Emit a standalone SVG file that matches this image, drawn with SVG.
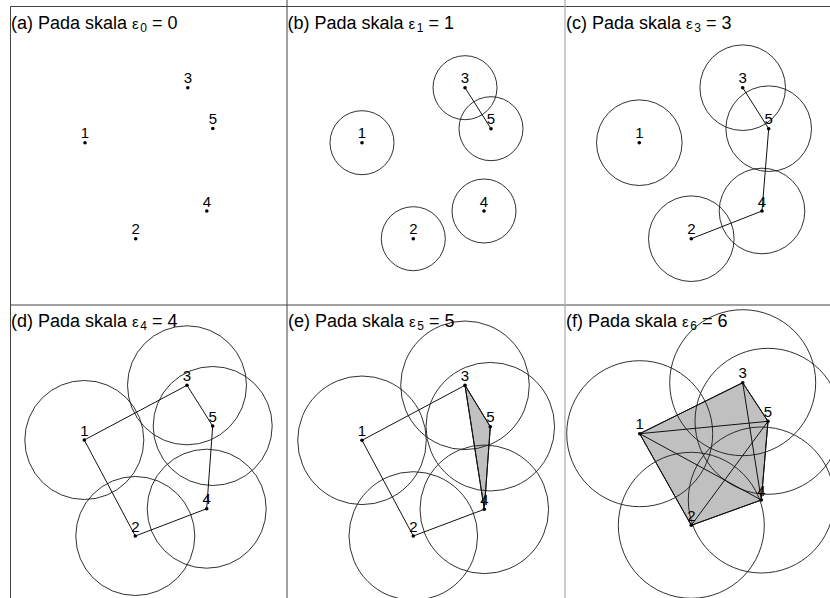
<svg xmlns="http://www.w3.org/2000/svg" width="830" height="598" viewBox="0 0 830 598">
<style>
.bg{fill:#ffffff}
.frame{stroke:#444;stroke-width:1;fill:none}
.frame2{stroke:#aaa;stroke-width:1.2;fill:none}
.title{font-family:"Liberation Sans",Arial,sans-serif;font-size:18px;fill:#000}
.eps{font-size:15px}
.sub{font-size:12px}
.ball{fill:none;stroke:#1a1a1a;stroke-width:0.9}
.edge{stroke:#111;stroke-width:1;fill:none}
.tri{fill:#c0c0c0;stroke:#111;stroke-width:1}
.pt{fill:#000}
.lbl{font-family:"Liberation Sans",Arial,sans-serif;font-size:15px;fill:#000;text-anchor:middle}
</style>
<rect class="bg" x="0" y="0" width="830" height="598"/>

<!-- panel (a) -->
<g id="panel-a">
<g id="a-connectors"></g>
<g id="a-n1"><circle class="pt" cx="85" cy="142.7" r="1.8"/><text class="lbl" x="85" y="138.2">1</text></g>
<g id="a-n2"><circle class="pt" cx="135.7" cy="238.7" r="1.8"/><text class="lbl" x="135.7" y="234.2">2</text></g>
<g id="a-n3"><circle class="pt" cx="187.8" cy="87.7" r="1.8"/><text class="lbl" x="187.8" y="83.2">3</text></g>
<g id="a-n4"><circle class="pt" cx="206.8" cy="211" r="1.8"/><text class="lbl" x="206.8" y="206.5">4</text></g>
<g id="a-n5"><circle class="pt" cx="212.8" cy="128.5" r="1.8"/><text class="lbl" x="212.8" y="124">5</text></g>
</g>

<!-- panel (b) r=32 -->
<g id="panel-b">
<g id="b-balls">
<circle class="ball" cx="362" cy="142.7" r="32"/>
<circle class="ball" cx="413.3" cy="238.7" r="32"/>
<circle class="ball" cx="465" cy="87.7" r="32"/>
<circle class="ball" cx="484" cy="211" r="32"/>
<circle class="ball" cx="491" cy="128.7" r="32"/>
</g>
<g id="b-connectors">
<line class="edge" x1="465" y1="87.7" x2="491" y2="128.7"/>
</g>
<g id="b-n1"><circle class="pt" cx="362" cy="142.7" r="1.8"/><text class="lbl" x="362" y="138.2">1</text></g>
<g id="b-n2"><circle class="pt" cx="413.3" cy="238.7" r="1.8"/><text class="lbl" x="413.3" y="234.2">2</text></g>
<g id="b-n3"><circle class="pt" cx="465" cy="87.7" r="1.8"/><text class="lbl" x="465" y="83.2">3</text></g>
<g id="b-n4"><circle class="pt" cx="484" cy="211" r="1.8"/><text class="lbl" x="484" y="206.5">4</text></g>
<g id="b-n5"><circle class="pt" cx="491" cy="128.7" r="1.8"/><text class="lbl" x="491" y="124.2">5</text></g>
</g>

<!-- panel (c) r=42.8 -->
<g id="panel-c">
<g id="c-balls">
<circle class="ball" cx="639.3" cy="142.7" r="42.8"/>
<circle class="ball" cx="691.3" cy="238.7" r="42.8"/>
<circle class="ball" cx="742.7" cy="87.7" r="42.8"/>
<circle class="ball" cx="762" cy="211" r="42.8"/>
<circle class="ball" cx="768.7" cy="128.7" r="42.8"/>
</g>
<g id="c-connectors">
<line class="edge" x1="742.7" y1="87.7" x2="768.7" y2="128.7"/>
<line class="edge" x1="768.7" y1="128.7" x2="762" y2="211"/>
<line class="edge" x1="762" y1="211" x2="691.3" y2="238.7"/>
</g>
<g id="c-n1"><circle class="pt" cx="639.3" cy="142.7" r="1.8"/><text class="lbl" x="639.3" y="138.2">1</text></g>
<g id="c-n2"><circle class="pt" cx="691.3" cy="238.7" r="1.8"/><text class="lbl" x="691.3" y="234.2">2</text></g>
<g id="c-n3"><circle class="pt" cx="742.7" cy="87.7" r="1.8"/><text class="lbl" x="742.7" y="83.2">3</text></g>
<g id="c-n4"><circle class="pt" cx="762" cy="211" r="1.8"/><text class="lbl" x="762" y="206.5">4</text></g>
<g id="c-n5"><circle class="pt" cx="768.7" cy="128.7" r="1.8"/><text class="lbl" x="768.7" y="124.2">5</text></g>
</g>

<!-- panel (d) r=59.5 -->
<g id="panel-d">
<g id="d-balls">
<circle class="ball" cx="84.3" cy="440" r="59.5"/>
<circle class="ball" cx="135.3" cy="536" r="59.5"/>
<circle class="ball" cx="187" cy="385.3" r="59.5"/>
<circle class="ball" cx="206.7" cy="508.7" r="59.5"/>
<circle class="ball" cx="212.7" cy="426" r="59.5"/>
</g>
<g id="d-connectors">
<line class="edge" x1="84.3" y1="440" x2="187" y2="385.3"/>
<line class="edge" x1="187" y1="385.3" x2="212.7" y2="426"/>
<line class="edge" x1="212.7" y1="426" x2="206.7" y2="508.7"/>
<line class="edge" x1="206.7" y1="508.7" x2="135.3" y2="536"/>
<line class="edge" x1="135.3" y1="536" x2="84.3" y2="440"/>
</g>
<g id="d-n1"><circle class="pt" cx="84.3" cy="440" r="1.8"/><text class="lbl" x="84.3" y="435.5">1</text></g>
<g id="d-n2"><circle class="pt" cx="135.3" cy="536" r="1.8"/><text class="lbl" x="135.3" y="531.5">2</text></g>
<g id="d-n3"><circle class="pt" cx="187" cy="385.3" r="1.8"/><text class="lbl" x="187" y="380.8">3</text></g>
<g id="d-n4"><circle class="pt" cx="206.7" cy="508.7" r="1.8"/><text class="lbl" x="206.7" y="504.2">4</text></g>
<g id="d-n5"><circle class="pt" cx="212.7" cy="426" r="1.8"/><text class="lbl" x="212.7" y="421.5">5</text></g>
</g>

<!-- panel (e) r=64.3 -->
<g id="panel-e">
<polygon class="tri" points="465,385.3 490.3,426.7 484.3,509.3"/>
<g id="e-balls">
<circle class="ball" cx="362" cy="440.3" r="64.3"/>
<circle class="ball" cx="413.3" cy="536" r="64.3"/>
<circle class="ball" cx="465" cy="385.3" r="64.3"/>
<circle class="ball" cx="484.3" cy="509.3" r="64.3"/>
<circle class="ball" cx="490.3" cy="426.7" r="64.3"/>
</g>
<g id="e-connectors">
<line class="edge" x1="362" y1="440.3" x2="465" y2="385.3"/>
<line class="edge" x1="465" y1="385.3" x2="490.3" y2="426.7"/>
<line class="edge" x1="490.3" y1="426.7" x2="484.3" y2="509.3"/>
<line class="edge" x1="484.3" y1="509.3" x2="413.3" y2="536"/>
<line class="edge" x1="413.3" y1="536" x2="362" y2="440.3"/>
<line class="edge" x1="465" y1="385.3" x2="484.3" y2="509.3"/>
</g>
<g id="e-n1"><circle class="pt" cx="362" cy="440.3" r="1.8"/><text class="lbl" x="362" y="435.8">1</text></g>
<g id="e-n2"><circle class="pt" cx="413.3" cy="536" r="1.8"/><text class="lbl" x="413.3" y="531.5">2</text></g>
<g id="e-n3"><circle class="pt" cx="465" cy="385.3" r="1.8"/><text class="lbl" x="465" y="380.8">3</text></g>
<g id="e-n4"><circle class="pt" cx="484.3" cy="509.3" r="1.8"/><text class="lbl" x="484.3" y="504.8">4</text></g>
<g id="e-n5"><circle class="pt" cx="490.3" cy="426.7" r="1.8"/><text class="lbl" x="490.3" y="422.2">5</text></g>
</g>

<!-- panel (f) r=73 -->
<g id="panel-f">
<polygon class="tri" points="639.7,433.7 742.7,382.7 768,421.3 761.3,500 691.3,525.3"/>
<g id="f-balls">
<circle class="ball" cx="639.7" cy="433.7" r="73"/>
<circle class="ball" cx="691.3" cy="525.3" r="73"/>
<circle class="ball" cx="742.7" cy="382.7" r="73"/>
<circle class="ball" cx="761.3" cy="500" r="73"/>
<circle class="ball" cx="768" cy="421.3" r="73"/>
</g>
<g id="f-connectors">
<line class="edge" x1="639.7" y1="433.7" x2="742.7" y2="382.7"/>
<line class="edge" x1="742.7" y1="382.7" x2="768" y2="421.3"/>
<line class="edge" x1="768" y1="421.3" x2="761.3" y2="500"/>
<line class="edge" x1="761.3" y1="500" x2="691.3" y2="525.3"/>
<line class="edge" x1="691.3" y1="525.3" x2="639.7" y2="433.7"/>
<line class="edge" x1="742.7" y1="382.7" x2="761.3" y2="500"/>
<line class="edge" x1="639.7" y1="433.7" x2="768" y2="421.3"/>
<line class="edge" x1="639.7" y1="433.7" x2="761.3" y2="500"/>
<line class="edge" x1="691.3" y1="525.3" x2="768" y2="421.3"/>
</g>
<g id="f-n1"><circle class="pt" cx="639.7" cy="433.7" r="1.8"/><text class="lbl" x="639.7" y="429.2">1</text></g>
<g id="f-n2"><circle class="pt" cx="691.3" cy="525.3" r="1.8"/><text class="lbl" x="691.3" y="520.8">2</text></g>
<g id="f-n3"><circle class="pt" cx="742.7" cy="382.7" r="1.8"/><text class="lbl" x="742.7" y="378.2">3</text></g>
<g id="f-n4"><circle class="pt" cx="761.3" cy="500" r="1.8"/><text class="lbl" x="761.3" y="495.5">4</text></g>
<g id="f-n5"><circle class="pt" cx="768" cy="421.3" r="1.8"/><text class="lbl" x="768" y="416.8">5</text></g>
</g>

<!-- frames -->
<g id="frames">
<line class="frame" x1="10.5" y1="6.5" x2="830" y2="6.5"/>
<line class="frame" x1="10.5" y1="305" x2="830" y2="305"/>
<line class="frame" x1="10.5" y1="6.5" x2="10.5" y2="598"/>
<line class="frame" x1="287" y1="0" x2="287" y2="598"/>
<line class="frame2" x1="565" y1="0" x2="565" y2="598"/>
</g>

<!-- titles -->
<g id="titles">
<text class="title" x="11" y="29.3">(a) Pada skala <tspan class="eps">ε</tspan><tspan class="sub" dx="1.5" dy="3">0</tspan><tspan dy="-3"> = 0</tspan></text>
<text class="title" x="287.5" y="29.3">(b) Pada skala <tspan class="eps">ε</tspan><tspan class="sub" dx="1.5" dy="3">1</tspan><tspan dy="-3"> = 1</tspan></text>
<text class="title" x="566" y="29.3">(c) Pada skala <tspan class="eps">ε</tspan><tspan class="sub" dx="1.5" dy="3">3</tspan><tspan dy="-3"> = 3</tspan></text>
<text class="title" x="11" y="326.5">(d) Pada skala <tspan class="eps">ε</tspan><tspan class="sub" dx="1.5" dy="3">4</tspan><tspan dy="-3"> = 4</tspan></text>
<text class="title" x="288" y="326.5">(e) Pada skala <tspan class="eps">ε</tspan><tspan class="sub" dx="1.5" dy="3">5</tspan><tspan dy="-3"> = 5</tspan></text>
<text class="title" x="566" y="326.5">(f) Pada skala <tspan class="eps">ε</tspan><tspan class="sub" dx="1.5" dy="3">6</tspan><tspan dy="-3"> = 6</tspan></text>
</g>
</svg>
